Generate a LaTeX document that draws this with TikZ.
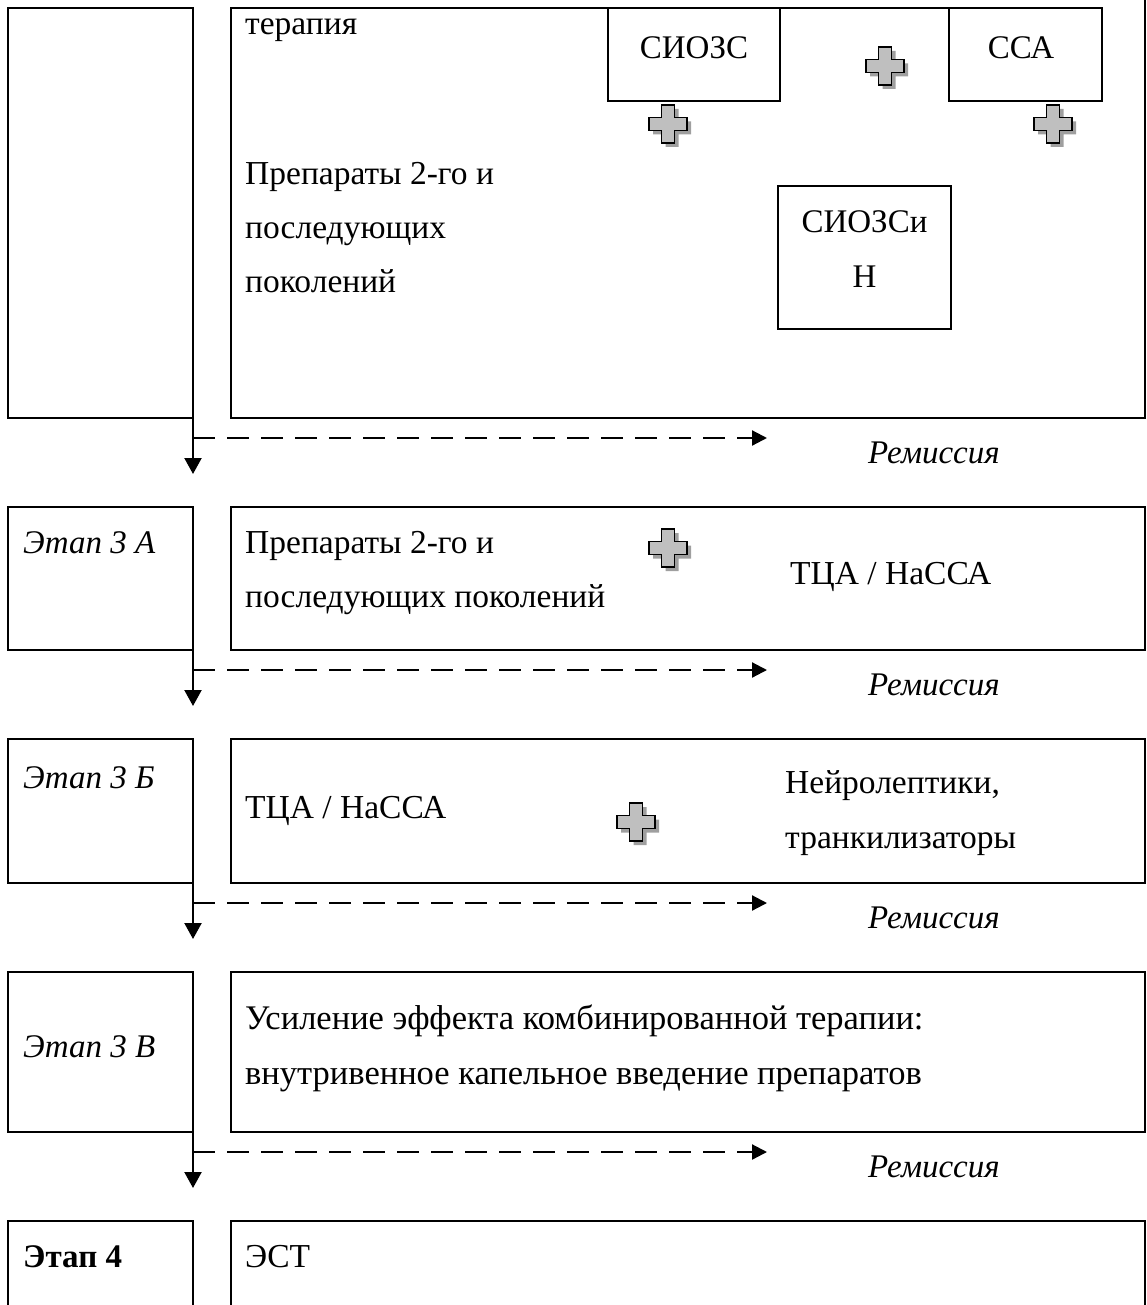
\documentclass[tikz,border=0pt]{standalone}
\usepackage{fontspec}
\setmainfont{Liberation Serif}
\usetikzlibrary{arrows.meta}
\begin{document}
\begin{tikzpicture}[x=1pt,y=-1pt,
  box/.style={draw,line width=2.2pt,rectangle,inner sep=0pt,outer sep=0pt},
  frame/.style={line width=2.2pt},
  txt/.style={anchor=base west,inner sep=0pt,font=\fontsize{33.5}{40}\selectfont},
  bigtxt/.style={anchor=base west,inner sep=0pt,font=\fontsize{34.5}{40}\selectfont},
  ctxt/.style={anchor=base,inner sep=0pt,font=\fontsize{33}{40}\selectfont},
  stage/.style={anchor=base west,inner sep=0pt,font=\fontsize{33}{40}\selectfont\itshape},
  rem/.style={anchor=base west,inner sep=0pt,font=\fontsize{33}{40}\selectfont\itshape},
  flow/.style={line width=2.2pt,-{Triangle[length=16pt,width=17pt]}},
  remarrow/.style={line width=2.2pt,dash pattern=on 22pt off 12pt,-{Triangle[length=15pt,width=15pt]}},
  crossmark/.pic={
    \fill[gray!75] (-2.5,-15) -- (10.5,-15) -- (10.5,-2.5) -- (23,-2.5) -- (23,10.5) -- (10.5,10.5) -- (10.5,23) -- (-2.5,23) -- (-2.5,10.5) -- (-15,10.5) -- (-15,-2.5) -- (-2.5,-2.5) -- cycle;
    \filldraw[fill=black!25,draw=black,line width=1.5pt] (-6.5,-19) -- (6.5,-19) -- (6.5,-6.5) -- (19,-6.5) -- (19,6.5) -- (6.5,6.5) -- (6.5,19) -- (-6.5,19) -- (-6.5,6.5) -- (-19,6.5) -- (-19,-6.5) -- (-6.5,-6.5) -- cycle;
  }]
\useasboundingbox (0,0) rectangle (1147,1305);

% ---------- Row 1 ----------
\node[box,minimum width=185pt,minimum height=410pt] (L1) at (100.5,213) {};
\draw[frame] (1102,8) -- (231,8) -- (231,418) -- (1145,418) -- (1145,0);
\node[box,minimum width=172pt,minimum height=93pt] (siozs) at (694,54.5) {};
\node[box,minimum width=153pt,minimum height=93pt] (ssa) at (1025.5,54.5) {};
\node[box,minimum width=173pt,minimum height=143pt] (siozsn) at (864.5,257.5) {};
\node[txt] (t1) at (245,35) {терапия};
\node[ctxt] (t2) at (694,59) {СИОЗС};
\node[ctxt] (t3) at (1021,59) {ССА};
\node[txt] (t4) at (245,185) {Препараты 2-го и};
\node[txt] (t5) at (245,239) {последующих};
\node[txt] (t6) at (245,293) {поколений};
\node[ctxt] (t7) at (864.5,233) {СИОЗСи};
\node[ctxt] (t8) at (864.5,288) {Н};
\pic at (885,66) {crossmark};
\pic at (668,124) {crossmark};
\pic at (1053,124) {crossmark};

\coordinate (d1) at (193,438);
\coordinate (d1e) at (767,438);
\coordinate (v1) at (193,474);
\draw[flow] (L1.south east) -- (v1);
\draw[remarrow] (d1) -- (d1e);
\node[rem] (r1) at (868,463) {Ремиссия};

% ---------- Row 3A ----------
\node[box,minimum width=185pt,minimum height=143pt] (L2) at (100.5,578.5) {};
\node[box,minimum width=914pt,minimum height=143pt] (R2) at (688,578.5) {};
\node[stage] (s2) at (23,553) {Этап 3 А};
\node[txt] (a1) at (245,553) {Препараты 2-го и};
\node[txt] (a2) at (245,607) {последующих поколений};
\node[txt] (a3) at (790,584) {ТЦА / НаССА};
\pic at (668,548) {crossmark};
\coordinate (d2) at (193,670);
\coordinate (d2e) at (767,670);
\coordinate (v2) at (193,706);
\draw[flow] (L2.south east) -- (v2);
\draw[remarrow] (d2) -- (d2e);
\node[rem] (r2) at (868,695) {Ремиссия};

% ---------- Row 3B ----------
\node[box,minimum width=185pt,minimum height=144pt] (L3) at (100.5,811) {};
\node[box,minimum width=914pt,minimum height=144pt] (R3) at (688,811) {};
\node[stage] (s3) at (23,788) {Этап 3 Б};
\node[txt] (b1) at (245,818) {ТЦА / НаССА};
\node[txt] (b2) at (785,793) {Нейролептики,};
\node[txt] (b3) at (785,848) {транкилизаторы};
\pic at (636,822) {crossmark};
\coordinate (d3) at (193,903);
\coordinate (d3e) at (767,903);
\coordinate (v3) at (193,939);
\draw[flow] (L3.south east) -- (v3);
\draw[remarrow] (d3) -- (d3e);
\node[rem] (r3) at (868,928) {Ремиссия};

% ---------- Row 3V ----------
\node[box,minimum width=185pt,minimum height=160pt] (L4) at (100.5,1052) {};
\node[box,minimum width=914pt,minimum height=160pt] (R4) at (688,1052) {};
\node[stage] (s4) at (23,1057) {Этап 3 В};
\node[bigtxt] (c1) at (245,1029) {Усиление эффекта комбинированной терапии:};
\node[bigtxt] (c2) at (245,1084) {внутривенное капельное введение препаратов};
\coordinate (d4) at (193,1152);
\coordinate (d4e) at (767,1152);
\coordinate (v4) at (193,1188);
\draw[flow] (L4.south east) -- (v4);
\draw[remarrow] (d4) -- (d4e);
\node[rem] (r4) at (868,1177) {Ремиссия};

% ---------- Row 4 ----------
\draw[frame] (8,1306) -- (8,1221) -- (193,1221) -- (193,1306);
\draw[frame] (231,1306) -- (231,1221) -- (1145,1221) -- (1145,1306);
\node[anchor=base west,inner sep=0pt,font=\fontsize{33}{40}\selectfont\bfseries] (s5) at (23,1267) {Этап 4};
\node[txt] (e1) at (245,1267) {ЭСТ};
\end{tikzpicture}
\end{document}
